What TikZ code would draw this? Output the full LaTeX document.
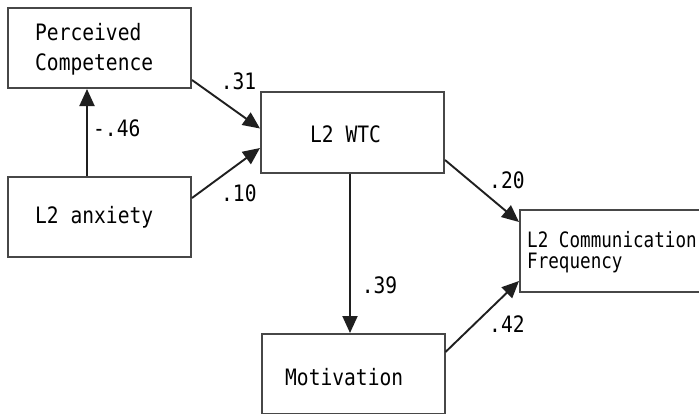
\documentclass[tikz,border=0pt]{standalone}
\usepackage{fontspec}
\usetikzlibrary{arrows.meta}
\newfontfamily\gf[FakeStretch=0.867]{DejaVu Sans Mono}
\newfontfamily\gfn[FakeStretch=0.83]{DejaVu Sans Mono}
\begin{document}
\begin{tikzpicture}[x=1pt,y=-1pt,
  box/.style={draw=black!72,line width=2pt,rectangle,inner sep=0pt,minimum width=183pt,minimum height=80pt},
  txt/.style={anchor=base west,inner sep=0pt,font=\gf\fontsize{22.6}{28}\selectfont,text=black},
  ctxt/.style={anchor=base west,inner sep=0pt,font=\gfn\fontsize{21.2}{21}\selectfont,text=black},
  lbl/.style={anchor=base west,inner sep=0pt,font=\gf\fontsize{22.6}{28}\selectfont,text=black},
  arr/.style={draw=black!88,line width=1.9pt,-{Triangle[length=17pt,width=15pt]}}]
\useasboundingbox (0,0) rectangle (699,413);
\fill[white] (0,0) rectangle (699,413);
\clip (0,0) rectangle (699,413);
% boxes
\node[box] (pc)  at (99.5,48)  {};
\node[box] (anx) at (99.5,217) {};
\node[box,minimum height=81pt] (wtc) at (352.5,132.5) {};
\node[box,minimum height=82pt] (cf)  at (611.5,251) {};
\node[box] (mot) at (353,374) {};
% texts
\node[txt] (pct1) at (35,40) {Perceived};
\node[txt] (pct2) at (35,70) {Competence};
\node[txt] (anxt) at (35,223) {L2 anxiety};
\node[txt] (wtct) at (310,142) {L2 WTC};
\node[txt] (mott) at (285,385) {Motivation};
\node[ctxt] (cft1) at (527,247) {L2 Communication};
\node[ctxt] (cft2) at (527,268) {Frequency};
% connectors
\draw[arr] ([xshift=-12.5pt]anx.north) -- ([xshift=-12.5pt]pc.south);
\draw[arr] ([yshift=-32pt]pc.east) -- ([yshift=4pt]wtc.west);
\draw[arr] ([yshift=19pt]anx.east) -- ([yshift=-15.5pt]wtc.west);
\draw[arr] ([xshift=-2.5pt]wtc.south) -- ([xshift=-3pt]mot.north);
\draw[arr] ([yshift=-27.5pt]wtc.east) -- ([yshift=29pt]cf.west);
\draw[arr] ([yshift=22pt]mot.east) -- ([yshift=-30pt]cf.west);
% labels
\node[lbl] (l31) at (220.7,89) {.31};
\node[lbl] (l46) at (93,136) {-.46};
\node[lbl] (l10) at (221,201) {.10};
\node[lbl] (l20) at (489,188) {.20};
\node[lbl] (l39) at (361.7,293) {.39};
\node[lbl] (l42) at (489,332) {.42};
\end{tikzpicture}
\end{document}
